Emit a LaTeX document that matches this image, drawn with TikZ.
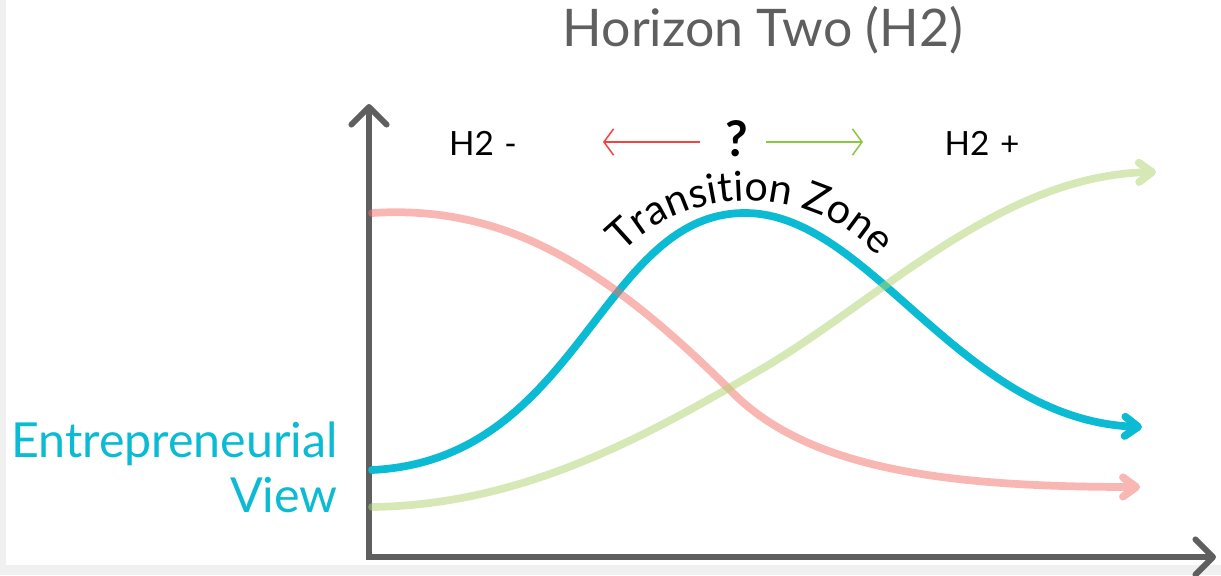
\documentclass[tikz,border=0pt]{standalone}
\usepackage{fontspec}
\setmainfont{Lato}
\usepackage{xcolor}
\usepackage{tikz}
\usetikzlibrary{arrows.meta,positioning,decorations.text}

\definecolor{axisgray}{HTML}{5F5F5F}
\definecolor{viewblue}{HTML}{0BBBD4}
\definecolor{lossred}{HTML}{F37169}
\definecolor{gaingreen}{HTML}{B1D371}
\definecolor{minusred}{HTML}{F4433C}
\definecolor{plusgreen}{HTML}{8DC63F}
\definecolor{framegray}{HTML}{F0F0F0}
\newcommand{\zonefont}{\fontsize{23.5}{26}\selectfont}

\begin{document}
\begin{tikzpicture}[
			x=0.02cm, y=-0.02cm,
			axis/.style={draw=axisgray, line width=3.4pt, {Straight Barb[length=10pt,width=20pt,round]}-{Straight Barb[length=10pt,width=20pt,round]}},
			curve/.style={line width=4.4pt, line cap=round, -{Straight Barb[length=7.5pt,width=11pt,round]}},
			hint/.style={line width=0.85pt, -{Straight Barb[length=5.5pt,width=15pt]}},
			titletext/.style={inner sep=0pt, text=axisgray, font=\fontsize{29.5}{32}\selectfont},
			viewtext/.style={inner sep=0pt, text=viewblue, font=\fontsize{27.5}{30}\selectfont},
			hlabel/.style={inner sep=0pt, font=\fontsize{19}{22}\selectfont},
			query/.style={inner sep=0pt, font=\fontsize{28}{30}\selectfont\bfseries}
			]
			% frame
			\useasboundingbox (0,0) rectangle (1221,575);
			\fill[white] (0,0) rectangle (1221,575);
			\fill[framegray] (0,0) rectangle (6,575);
			\fill[framegray] (0,565) rectangle (1221,575);
			
			% labels
			\node[titletext, anchor=base] (title) at (763,46) {Horizon Two (H2)};
			\node[hlabel, anchor=base] (hminus) at (483,155) {H2\hspace{6pt}-};
			\node[hlabel, anchor=base] (hplus) at (982,155) {H2\hspace{6pt}+};
			\node[query, anchor=base] (query) at (737,156) {?};
			\node[viewtext, anchor=base east] (entre) at (338,457) {Entrepreneurial};
			\node[viewtext, anchor=base east] (view) at (338,512) {View};
			
			\coordinate (mtail) at (700,142);
			\coordinate (mtip) at (603,142);
			\coordinate (ptail) at (766,142);
			\coordinate (ptip) at (863,142);
			\draw[hint, minusred] (mtail) -- (mtip);
			\draw[hint, plusgreen] (ptail) -- (ptip);
			
			% axes
			\coordinate (ytop) at (369,104);
			\coordinate (origin) at (369,557);
			\coordinate (xend) at (1216,557);
			\draw[axis] (ytop) -- (origin) -- (xend);
			
			% curves
			\draw[curve, viewblue] (372,470) .. controls (580,460) and (600,213) .. (745,213)
				.. controls (870,213) and (960,420) .. (1142,427);
			\begin{scope}[transparency group, opacity=0.5]
				\draw[curve, lossred] (372,213) .. controls (500,205) and (600,260) .. (733,393)
					.. controls (810,470) and (950,487) .. (1140,487);
			\end{scope}
			\begin{scope}[transparency group, opacity=0.5]
				\draw[curve, gaingreen] (372,507) .. controls (520,505) and (640,440) .. (760,370)
					.. controls (880,300) and (1000,175) .. (1156,172);
			\end{scope}
			
			\path[decorate, decoration={text along path, text={|\zonefont|Transition Zone}, text align=center}]
				(603,278) .. controls (668,174) and (832,174) .. (897,283);
		\end{tikzpicture}
\end{document}
